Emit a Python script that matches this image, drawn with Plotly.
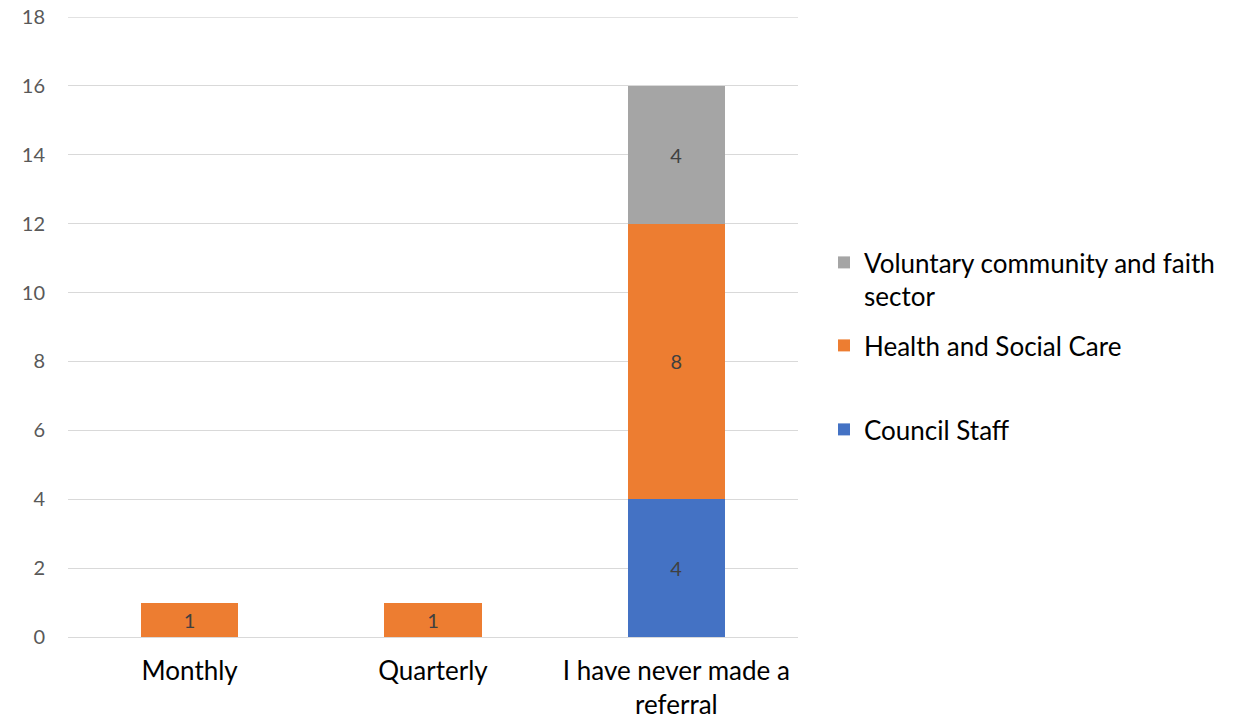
import plotly.graph_objects as go

categories = ["Monthly", "Quarterly", "I have never made a<br>referral"]
council_staff = [0, 0, 4]
health_social_care = [1, 1, 8]
voluntary_sector = [0, 0, 4]
y_ticks = [0, 2, 4, 6, 8, 10, 12, 14, 16, 18]

series = [
    ("Council Staff", council_staff, "#4472C4", "legend3"),
    ("Health and Social Care", health_social_care, "#ED7D31", "legend2"),
    ("Voluntary community and faith<br>sector", voluntary_sector, "#A5A5A5", "legend"),
]

FONT = "Lato, Carlito, Calibri, sans-serif"

fig = go.Figure()
for name, values, color, leg in series:
    labels = [str(v) if v else "" for v in values]
    fig.add_trace(go.Bar(
        x=categories,
        y=values,
        name=name,
        marker=dict(color=color, line=dict(width=0)),
        text=labels,
        texttemplate="%{text}",
        textposition="inside",
        insidetextanchor="middle",
        textangle=0,
        textfont=dict(family=FONT, size=20, color="#404040"),
        legend=leg,
        hoverinfo="skip",
    ))

W, H = 1234, 719
legend_style = dict(
    xref="container", yref="container", xanchor="left", yanchor="top",
    font=dict(family=FONT, size=26, color="#000000"),
    bgcolor="rgba(0,0,0,0)", borderwidth=0, itemwidth=30,
)

fig.update_layout(
    width=W, height=H,
    barmode="stack",
    bargap=0.6,
    plot_bgcolor="white",
    paper_bgcolor="white",
    margin=dict(l=68, r=W - 798, t=17, b=H - 637),
    font=dict(family=FONT),
    showlegend=True,
    legend=dict(x=824 / W, y=1 - 239 / H, valign="top", **legend_style),
    legend2=dict(x=824 / W, y=1 - 322 / H, **legend_style),
    legend3=dict(x=824 / W, y=1 - 406 / H, **legend_style),
    uniformtext=dict(mode=False),
)

fig.update_xaxes(
    showgrid=False,
    showline=False,
    ticks="",
    automargin=False,
    tickfont=dict(family=FONT, size=26, color="#000000"),
    ticklabelstandoff=16,
    fixedrange=True,
)
fig.update_yaxes(
    range=[0, 18],
    tickvals=y_ticks,
    showgrid=True,
    gridcolor="#D9D9D9",
    gridwidth=1.3,
    zeroline=True,
    zerolinecolor="#D9D9D9",
    zerolinewidth=1.3,
    showline=False,
    ticks="",
    automargin=False,
    tickfont=dict(family=FONT, size=20, color="#595959"),
    ticklabelstandoff=22,
    fixedrange=True,
)

# gridline along the top of the value range
fig.add_hline(y=18, line=dict(color="#D9D9D9", width=1.3), layer="below")

fig.write_html("out.html", config={"displayModeBar": False})
